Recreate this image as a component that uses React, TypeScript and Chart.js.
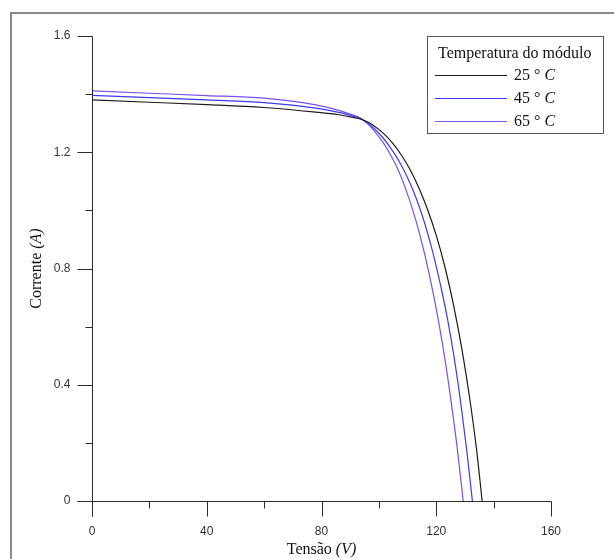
import React, { useEffect, useRef } from "react";
import { Chart, registerables } from "chart.js";

Chart.register(...registerables);

// Data (Tensão V, Corrente A)
const V25 = [0, 20, 40, 60, 78, 86, 90, 92.5, 94.5, 96.3, 98, 101.5, 105, 108, 111, 114, 117, 120, 123, 126, 129, 131.5, 134, 136];
const I25 = [1.38, 1.372, 1.364, 1.354, 1.338, 1.329, 1.322, 1.317, 1.311, 1.303, 1.293, 1.266, 1.229, 1.188, 1.138, 1.076, 1.002, 0.914, 0.806, 0.676, 0.519, 0.364, 0.182, 0];

const V45 = [0, 20, 40, 60, 78, 86, 90, 92.5, 94.5, 96.3, 98, 101.5, 104, 107, 110, 113, 116, 119, 122, 124, 126.3, 128.3, 130.5, 132.6];
const I45 = [1.396, 1.388, 1.38, 1.371, 1.352, 1.337, 1.327, 1.32, 1.311, 1.299, 1.285, 1.249, 1.216, 1.17, 1.112, 1.042, 0.955, 0.848, 0.72, 0.622, 0.49, 0.355, 0.185, 0];

const V65 = [0, 20, 40, 60, 78, 86, 90, 92.5, 94.5, 96.3, 98, 101.5, 104, 107, 110, 113, 116, 119, 121, 123, 125, 127.3, 129.4];
const I65 = [1.411, 1.403, 1.395, 1.386, 1.363, 1.344, 1.331, 1.3225, 1.311, 1.296, 1.278, 1.233, 1.192, 1.133, 1.055, 0.962, 0.848, 0.712, 0.607, 0.49, 0.355, 0.183, 0];

const SERIES_LABELS = ["25", "45", "65"];
const SERIES_COLORS = ["#1c1c1c", "#3b3bf2", "#7a4ef0"];
const LEGEND_TITLE = "Temperatura do módulo";

const X_MAJOR = [0, 40, 80, 120, 160];
const X_MINOR = [20, 60, 100, 140];
const Y_MAJOR = [0, 0.4, 0.8, 1.2, 1.6];
const Y_MINOR = [0.2, 0.6, 1.0, 1.4];
const Y_LABELS = ["0", "0.4", "0.8", "1.2", "1.6"];
const X_LABELS = ["0", "40", "80", "120", "160"];

const W = 614;
const H = 559;

type Part = { t: string; italic?: boolean };

function drawRich(ctx: CanvasRenderingContext2D, parts: Part[], x: number, y: number, size: number, align: "left" | "center") {
  const fontFor = (p: Part) => `${p.italic ? "italic " : ""}${size}px "Liberation Serif", "Times New Roman", serif`;
  let total = 0;
  for (const p of parts) {
    ctx.font = fontFor(p);
    total += ctx.measureText(p.t).width;
  }
  let cx = align === "center" ? x - total / 2 : x;
  ctx.textAlign = "left";
  ctx.textBaseline = "middle";
  for (const p of parts) {
    ctx.font = fontFor(p);
    ctx.fillText(p.t, cx, y);
    cx += ctx.measureText(p.t).width;
  }
}

const framePlugin = {
  id: "frame",
  beforeDraw(chart: any) {
    const ctx = chart.ctx as CanvasRenderingContext2D;
    ctx.save();
    ctx.fillStyle = "#ffffff";
    ctx.fillRect(0, 0, W, H);
    ctx.fillStyle = "#8a8a8a";
    ctx.fillRect(10, 12, W - 10, 2);
    ctx.fillRect(10, 12, 2, H - 12);
    ctx.restore();
  },
};

const axesPlugin = {
  id: "axesDraw",
  afterDatasetsDraw(chart: any) {
    const ctx = chart.ctx as CanvasRenderingContext2D;
    const xs = chart.scales.x;
    const ys = chart.scales.y;
    const px = (v: number) => Math.round(xs.getPixelForValue(v)) + 0.5;
    const py = (v: number) => Math.round(ys.getPixelForValue(v)) + 0.5;
    const x0 = px(0);
    const y0 = py(0);
    const major = 15;
    const minor = 7;

    ctx.save();
    ctx.strokeStyle = "#2a2a2a";
    ctx.lineWidth = 1;
    ctx.beginPath();
    ctx.moveTo(x0, py(1.6));
    ctx.lineTo(x0, y0 + major);
    ctx.moveTo(x0 - major, y0);
    ctx.lineTo(px(160), y0);
    for (const v of X_MAJOR) {
      ctx.moveTo(px(v), y0);
      ctx.lineTo(px(v), y0 + major);
    }
    for (const v of X_MINOR) {
      ctx.moveTo(px(v), y0);
      ctx.lineTo(px(v), y0 + minor);
    }
    for (const v of Y_MAJOR) {
      ctx.moveTo(x0 - major, py(v));
      ctx.lineTo(x0, py(v));
    }
    for (const v of Y_MINOR) {
      ctx.moveTo(x0 - minor, py(v));
      ctx.lineTo(x0, py(v));
    }
    ctx.stroke();

    ctx.fillStyle = "#333333";
    ctx.font = '12px "Liberation Sans", Arial, sans-serif';
    ctx.textAlign = "center";
    ctx.textBaseline = "middle";
    X_MAJOR.forEach((v, i) => ctx.fillText(X_LABELS[i], xs.getPixelForValue(v), y0 + 30));
    ctx.textAlign = "right";
    Y_MAJOR.forEach((v, i) => ctx.fillText(Y_LABELS[i], x0 - 22, ys.getPixelForValue(v)));

    ctx.fillStyle = "#111111";
    drawRich(ctx, [{ t: "Tensão " }, { t: "(V)", italic: true }], (xs.left + xs.right) / 2, 550, 16, "center");
    ctx.save();
    ctx.translate(37, (ys.top + ys.bottom) / 2);
    ctx.rotate(-Math.PI / 2);
    drawRich(ctx, [{ t: "Corrente " }, { t: "(A)", italic: true }], 0, 0, 16, "center");
    ctx.restore();

    const lx = 427.5, ly = 36.5, lw = 176, lh = 97;
    ctx.fillStyle = "#ffffff";
    ctx.fillRect(lx, ly, lw, lh);
    ctx.strokeStyle = "#555555";
    ctx.strokeRect(lx, ly, lw, lh);
    ctx.fillStyle = "#111111";
    drawRich(ctx, [{ t: LEGEND_TITLE }], 438, 54, 16, "left");
    SERIES_LABELS.forEach((lab, i) => {
      const yy = 75.5 + i * 23;
      ctx.strokeStyle = SERIES_COLORS[i];
      ctx.beginPath();
      ctx.moveTo(435, yy);
      ctx.lineTo(507, yy);
      ctx.stroke();
      ctx.fillStyle = "#111111";
      drawRich(ctx, [{ t: `${lab} ° ` }, { t: "C", italic: true }], 514, yy, 16, "left");
    });
    ctx.restore();
  },
};

export default function App() {
  const ref = useRef<HTMLCanvasElement>(null);
  useEffect(() => {
    if (!ref.current) return;
    const mk = (V: number[], I: number[]) => V.map((v, i) => ({ x: v, y: I[i] }));
    const sets = [mk(V25, I25), mk(V45, I45), mk(V65, I65)];
    const chart = new Chart(ref.current, {
      type: "line",
      data: {
        datasets: sets.map((d, i) => ({
          label: SERIES_LABELS[i],
          data: d,
          borderColor: SERIES_COLORS[i],
          borderWidth: 1.2,
          pointRadius: 0,
          fill: false,
          cubicInterpolationMode: "monotone" as const,
        })),
      },
      options: {
        animation: false,
        responsive: false,
        devicePixelRatio: 1,
        layout: { padding: { left: 92, top: 36, right: W - 551, bottom: H - 501 } },
        plugins: { legend: { display: false }, tooltip: { enabled: false } },
        scales: {
          x: { type: "linear", min: 0, max: 160, display: false },
          y: { type: "linear", min: 0, max: 1.6, display: false },
        },
      },
      plugins: [framePlugin, axesPlugin],
    });
    return () => chart.destroy();
  }, []);
  return (
    <div style={{ position: "absolute", left: 0, top: 0, width: W, height: H }}>
      <canvas ref={ref} width={W} height={H} style={{ display: "block" }} />
    </div>
  );
}
